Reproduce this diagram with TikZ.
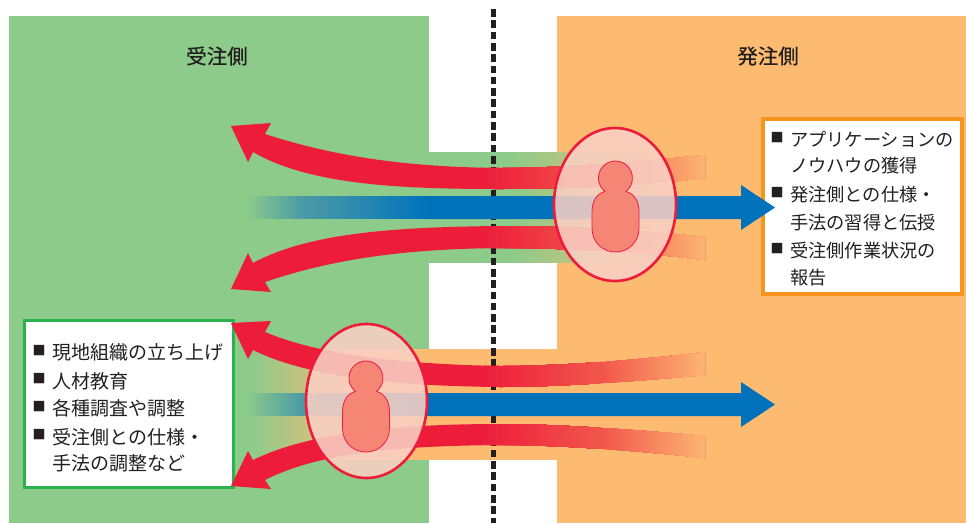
\documentclass[tikz,border=0pt]{standalone}
\usepackage{fontspec}
\setmainfont{Noto Sans CJK JP}
\newfontfamily\titlefont[FakeBold=0.35]{Noto Sans CJK JP}
\definecolor{panelgreen}{HTML}{8CCB8A}
\definecolor{panelorange}{HTML}{FDBB72}
\definecolor{arrowred}{HTML}{ED1C3A}
\definecolor{midred}{HTML}{F2554C}
\definecolor{endred}{HTML}{FDB472}
\definecolor{arrowblue}{HTML}{0072BC}
\definecolor{midteal}{HTML}{4A9AA6}
\definecolor{boxgreen}{HTML}{2BB24C}
\definecolor{boxorange}{HTML}{F7941E}
\definecolor{inkblack}{HTML}{231F20}
\definecolor{bubble}{HTML}{F9D0C4}
\definecolor{personfill}{HTML}{F58676}
\tikzset{
  titletext/.style={inner sep=0pt,text=inkblack,font=\titlefont\fontsize{20.5}{22}\selectfont},
  listtext/.style={inner sep=0pt,anchor=base west,text=inkblack,font=\fontsize{18.2}{22}\selectfont},
  listwide/.style={listtext,font=\fontsize{19}{22}\selectfont},
  bulletmark/.style={inner sep=0pt,anchor=center,text=inkblack,font=\fontsize{13}{14}\selectfont},
  bubbleshape/.style={ellipse,draw=arrowred,line width=2.6pt,fill=bubble,fill opacity=.88,draw opacity=1,inner sep=0pt},
  personshape/.style={draw=arrowred,line width=.8pt,fill=personfill},
}
\usetikzlibrary{shapes.geometric}
% horizontal ramp made of overlapping slices: x0,x1,y0,y1,colour A,colour B,steps
\newcommand{\gradbar}[7]{%
  \foreach \k in {0,...,#7}{%
    \pgfmathsetmacro{\pct}{100*\k/#7}%
    \pgfmathsetmacro{\xs}{#1+(#2-#1)*\k/(#7+1)}%
    \fill[#6!\pct!#5] (\xs,#3) rectangle (#2,#4);
  }}
% red arrow with a right end that fades out: #1 = path
\newcommand{\fadedred}[1]{%
  \begin{scope}
    \clip #1;
    \fill[arrowred] (220,100) rectangle (481,500);
    \gradbar{480}{601}{100}{500}{arrowred}{midred}{30}
    \gradbar{600}{706}{100}{500}{midred}{endred}{40}
  \end{scope}}
\newcommand{\personfig}[2]{%
  \begin{scope}[shift={(#1,#2)}]
    \draw[personshape] (-10.5,13.4) arc[start angle=128,end angle=412,radius=17]
      .. controls (18,15.5) and (23.5,22) .. (23.5,34)
      -- (23.5,50) .. controls (23.5,65) and (12,74) .. (0,74)
      .. controls (-12,74) and (-23.5,65) .. (-23.5,50)
      -- (-23.5,34) .. controls (-23.5,22) and (-18,15.5) .. (-10.5,13.4) -- cycle;
  \end{scope}}
\begin{document}
\begin{tikzpicture}[x=1pt,y=-1pt]
\useasboundingbox (0,0) rectangle (966,523);
% panels
\fill[panelgreen] (9,16) rectangle (429,523);
\fill[panelorange] (557,16) rectangle (966,523);
% bands
\fill[panelgreen] (429,152) rectangle (511,263);
\gradbar{510}{670}{152}{263}{panelgreen}{panelorange}{50}
\fill[panelorange] (359,349) rectangle (557,460);
\gradbar{250}{360}{349}{460}{panelgreen}{panelorange}{40}
% border line
\draw[inkblack,line width=5pt,dash pattern=on 7.6pt off 3.7pt] (493,9) -- (493,523);
% text boxes
\draw[boxgreen,line width=3pt,fill=white] (24,320) rectangle (233,487);
\draw[boxorange,line width=3.5pt,fill=white] (763,119) rectangle (962,294);
% titles
\node[titletext] (titleA) at (217,56) {受注側};
\node[titletext] (titleB) at (768,56) {発注側};
% left list
\node[bulletmark] (la) at (39,351) {■};
\node[listwide] (lta) at (52,359.5) {現地組織の立ち上げ};
\node[bulletmark] (lb) at (39,378.5) {■};
\node[listwide] (ltb) at (52,388.5) {人材教育};
\node[bulletmark] (lc) at (39,407) {■};
\node[listwide] (ltc) at (52,415.5) {各種調査や調整};
\node[bulletmark] (ld) at (39,434.5) {■};
\node[listwide] (ltd) at (52,444.5) {受注側との仕様・};
\node[listwide] (lte) at (52,470.5) {手法の調整など};
% right list
\node[bulletmark] (ra) at (777,138) {■};
\node[listtext] (rta) at (790,146.5) {アプリケーションの};
\node[listtext] (rtb) at (790,172.5) {ノウハウの獲得};
\node[bulletmark] (rb) at (777,193) {■};
\node[listtext] (rtc) at (790,201.5) {発注側との仕様・};
\node[listtext] (rtd) at (790,229.5) {手法の習得と伝授};
\node[bulletmark] (rc) at (777,248.5) {■};
\node[listtext] (rte) at (790,257.5) {受注側作業状況の};
\node[listtext] (rtf) at (790,284.5) {報告};
% blue arrows
\gradbar{245}{305}{196}{219}{panelgreen}{midteal}{20}
\gradbar{304}{430}{196}{219}{midteal}{arrowblue}{30}
\fill[arrowblue] (429,196) -- (741,196) -- (741,185) -- (775,207.5) -- (741,230) -- (741,219) -- (429,219) -- cycle;
\gradbar{245}{305}{393}{416}{panelgreen}{midteal}{20}
\gradbar{304}{430}{393}{416}{midteal}{arrowblue}{30}
\fill[arrowblue] (429,393) -- (741,393) -- (741,382) -- (775,404.5) -- (741,427) -- (741,416) -- (429,416) -- cycle;
% red arrows
\fadedred{(231,126) -- (271,123) -- (265,134) .. controls (330,155) and (400,167) .. (500,168) .. controls (560,168) and (640,162) .. (705,155) -- (705,178) .. controls (640,186) and (560,189) .. (500,189) .. controls (400,189) and (310,185) .. (253,152) -- (248,162) -- cycle}
\fadedred{(231,289) -- (271,292) -- (265,282) .. controls (330,260) and (400,249) .. (500,248) .. controls (560,248) and (640,252) .. (705,260) -- (705,237) .. controls (640,230) and (560,226) .. (500,226) .. controls (400,227) and (310,232) .. (253,263) -- (248,253) -- cycle}
\fadedred{(231,323) -- (271,321) -- (265,332) .. controls (320,355) and (400,364) .. (500,366) .. controls (560,366) and (640,360) .. (705,352) -- (705,375) .. controls (640,381) and (560,387) .. (500,387) .. controls (400,386) and (310,378) .. (253,350) -- (248,359) -- cycle}
\fadedred{(231,486) -- (271,489) -- (265,480) .. controls (320,452) and (400,446) .. (500,445) .. controls (560,445) and (640,451) .. (705,458) -- (705,436) .. controls (640,430) and (560,424) .. (500,424) .. controls (400,424) and (310,432) .. (253,460) -- (248,451) -- cycle}
% people
\node[bubbleshape,minimum width=122pt,minimum height=153pt] (bubbleA) at (615,204.5) {};
\personfig{615.5}{178}
\node[bubbleshape,minimum width=121pt,minimum height=154pt] (bubbleB) at (366.5,401) {};
\personfig{366}{378}
\end{tikzpicture}
\end{document}
